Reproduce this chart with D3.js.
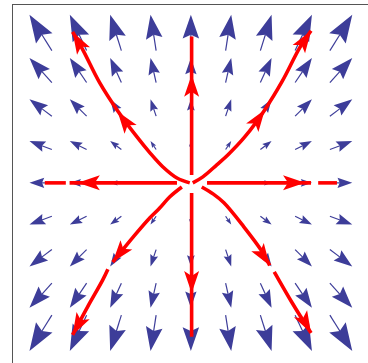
<!DOCTYPE html>
<html>
<head>
<meta charset="utf-8">
<script src="https://cdn.jsdelivr.net/npm/d3@7"></script>
<style>
  body { margin: 0; background: #fff; }
  svg { display: block; }
</style>
</head>
<body>
<script>
// grid of the vector field (data units)
const gridX = [-4, -3, -2, -1, 0, 1, 2, 3, 4];
const gridY = [4, 3, 2, 1, 0, -1, -2, -3, -4];
// horizontal component per column, vertical component per row
const fieldU = [-4, -3, -2, -1, 0, 1, 2, 3, 4];
const fieldV = [6.4, 4.4, 3.0, 1.5, 0, -1.5, -3.0, -4.4, -6.4];

// red stream lines, each segment a list of [x, y] points
const streamSegments = [
  [[-0.37, 0], [-3.23, 0]],
  [[-3.33, 0], [-3.89, 0]],
  [[0.43, 0], [3.2, 0]],
  [[3.39, 0], [3.89, 0]],
  [[0.02, 0.21], [0.02, 3.9]],
  [[0.02, -0.27], [0.02, -4.1]],
  [[-0.03, 0], [-0.37, 0.13], [-0.75, 0.43], [-1.09, 0.8], [-1.44, 1.23], [-1.97, 1.95], [-2.43, 2.67], [-2.88, 3.55], [-3.15, 4.02]],
  [[0.05, 0], [0.32, 0.16], [0.69, 0.48], [0.99, 0.75], [1.44, 1.23], [1.97, 1.95], [2.43, 2.7], [2.9, 3.6], [3.2, 4.05]],
  [[-0.24, -0.11], [-0.56, -0.37], [-0.83, -0.67], [-1.09, -0.93], [-1.5, -1.4], [-2.08, -2.11]],
  [[-2.21, -2.3], [-2.35, -2.59], [-2.75, -3.3], [-3.15, -4.05]],
  [[0.29, -0.11], [0.6, -0.3], [0.88, -0.53], [1.41, -1.17], [1.87, -1.79], [2.1, -2.2]],
  [[2.22, -2.37], [2.7, -3.2], [3.2, -4.0]]
];

// red arrowheads: tip point and a point behind it giving the direction
const streamArrows = [
  { tip: [-3.01, 0], from: [-2.5, 0] },
  { tip: [3.04, 0], from: [2.5, 0] },
  { tip: [0.02, 2.88], from: [0.02, 2.3] },
  { tip: [0.02, -2.93], from: [0.02, -2.3] },
  { tip: [-1.95, 1.9], from: [-1.6, 1.42] },
  { tip: [-3.15, 4.02], from: [-2.88, 3.55] },
  { tip: [1.97, 1.95], from: [1.6, 1.42] },
  { tip: [3.2, 4.05], from: [2.9, 3.6] },
  { tip: [-2.08, -2.11], from: [-1.6, -1.5] },
  { tip: [-3.15, -4.05], from: [-2.85, -3.5] },
  { tip: [2.1, -2.2], from: [1.7, -1.6] },
  { tip: [3.2, -4.0], from: [2.9, -3.45] }
];

const width = 368, height = 363;

const x = d3.scaleLinear().domain([-4.75, 4.85]).range([12.5, 373]);
const y = d3.scaleLinear().domain([-4.85, 4.75]).range([365, 4.5]);
// pixels per field unit for the blue arrows
const arrowScale = d3.scaleLinear().domain([0, 1]).range([0, 5.6]);

const svg = d3.select("body").append("svg")
    .attr("width", width)
    .attr("height", height);

// frame (only left and top edges fall inside the picture)
svg.append("rect")
    .attr("x", x(-4.75)).attr("y", y(4.75))
    .attr("width", x(4.85) - x(-4.75))
    .attr("height", y(-4.85) - y(4.75))
    .attr("fill", "none")
    .attr("stroke", "#555")
    .attr("stroke-width", 1);

// polygon for an arrowhead with a notched back
function headPath(tx, ty, ux, uy, len, halfW, notch)
{
  let px = -uy, py = ux;
  let bx = tx - ux * len, by = ty - uy * len;
  let p = d3.path();
  p.moveTo(tx, ty);
  p.lineTo(bx + px * halfW, by + py * halfW);
  p.lineTo(tx - ux * notch, ty - uy * notch);
  p.lineTo(bx - px * halfW, by - py * halfW);
  p.closePath();
  return p.toString();
}

// blue field arrows
let fieldArrows = [];
gridY.forEach((gy, j) => {
  gridX.forEach((gx, i) => {
    fieldArrows.push({ x: gx, y: gy, u: fieldU[i], v: fieldV[j] });
  });
});

let arrowGroup = svg.append("g").attr("class", "field");
fieldArrows.forEach(a => {
  let dx = arrowScale(a.u), dy = -arrowScale(a.v);
  let len = Math.hypot(dx, dy);
  if (len < 0.5) return;
  let ux = dx / len, uy = dy / len;
  let cx = x(a.x), cy = y(a.y);
  let tipX = cx + dx / 2, tipY = cy + dy / 2;
  let tailX = cx - dx / 2, tailY = cy - dy / 2;
  arrowGroup.append("line")
      .attr("x1", tailX).attr("y1", tailY)
      .attr("x2", tipX - ux * len * 0.55).attr("y2", tipY - uy * len * 0.55)
      .attr("stroke", "#3d3d99")
      .attr("stroke-width", 1.2);
  arrowGroup.append("path")
      .attr("d", headPath(tipX, tipY, ux, uy, len * 0.66, len * 0.23, len * 0.56))
      .attr("fill", "#3d3d99");
});

// red stream lines
let line = d3.line()
    .x(d => x(d[0]))
    .y(d => y(d[1]))
    .curve(d3.curveCatmullRom);

svg.append("g").selectAll("path")
    .data(streamSegments)
    .join("path")
    .attr("d", line)
    .attr("fill", "none")
    .attr("stroke", "#ff0000")
    .attr("stroke-width", 3.6);

svg.append("g").selectAll("path")
    .data(streamArrows)
    .join("path")
    .attr("d", a => {
      let tx = x(a.tip[0]), ty = y(a.tip[1]);
      let dx = tx - x(a.from[0]), dy = ty - y(a.from[1]);
      let l = Math.hypot(dx, dy);
      return headPath(tx, ty, dx / l, dy / l, 22, 7.5, 17);
    })
    .attr("fill", "#ff0000");
</script>
</body>
</html>
